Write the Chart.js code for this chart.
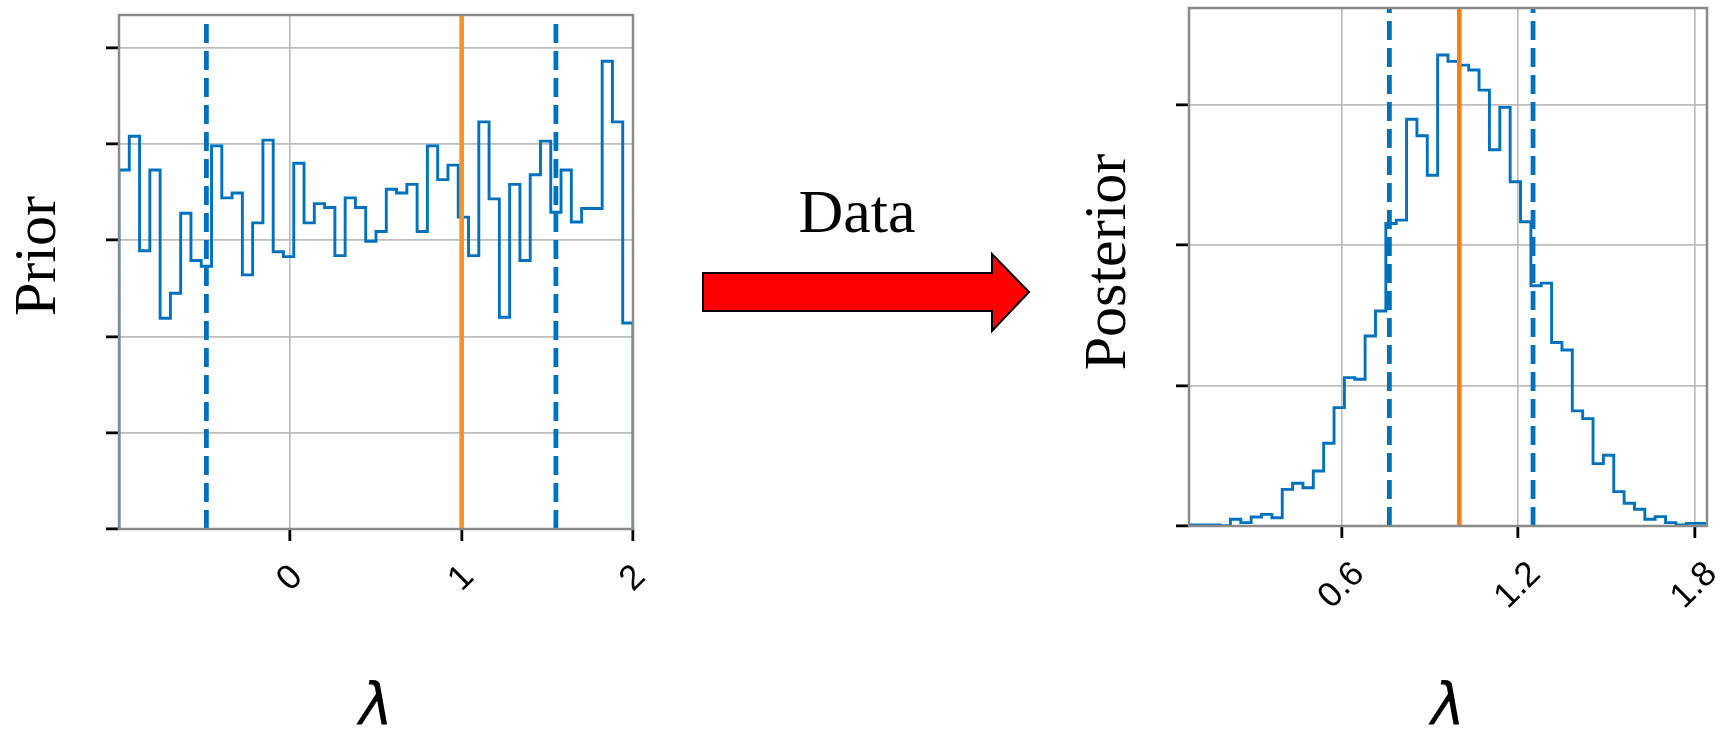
<!DOCTYPE html>
<html>
<head>
<meta charset="utf-8">
<script src="https://cdn.jsdelivr.net/npm/chart.js@4.4.1/dist/chart.umd.min.js"></script>
<style>
    html, body { margin: 0; padding: 0; background: #fff; }
    #wrap { position: relative; width: 1721px; height: 731px; overflow: hidden; }
    #wrap canvas, #wrap svg { position: absolute; top: 0; }
    #prior { left: 0; }
    #posterior { left: 1060px; }
    #arrow { left: 0; pointer-events: none; }
</style>
</head>
<body>
<div id="wrap">
    <canvas id="prior" width="700" height="731"></canvas>
    <canvas id="posterior" width="661" height="731"></canvas>
    <svg id="arrow" width="1721" height="731">
        <text x="857" y="232" text-anchor="middle" font-family="'Liberation Serif', 'Times New Roman', serif" font-size="62">Data</text>
        <polygon points="703,273 992,273 992,254 1029,292 992,331 992,311 703,311" fill="#ff0000" stroke="#000" stroke-width="2" stroke-linejoin="miter"/>
    </svg>
</div>

<script>
// Prior histogram: 50 bins from -1 to 2 (heights in grid units, y axis has no labels)
const priorBinStart = -1;
const priorBinWidth = 0.06;
const priorCounts = [
    3.73, 4.08, 2.89, 3.73, 2.19, 2.45, 3.28, 2.79, 2.73, 3.98,
    3.44, 3.49, 2.64, 3.18, 4.04, 2.88, 2.83, 3.80, 3.18, 3.38,
    3.34, 2.84, 3.44, 3.34, 2.99, 3.09, 3.53, 3.49, 3.58, 3.09,
    3.98, 3.63, 3.78, 3.24, 2.84, 4.23, 3.43, 2.20, 3.58, 2.79,
    3.68, 4.03, 3.29, 3.73, 3.19, 3.33, 3.33, 4.86, 4.23, 2.14
];
const priorXRange = [-1, 2];
const priorYMax = 5.34;
const priorXTicks = [0, 1, 2];
const priorXLabels = ['0', '1', '2'];
const priorYTicks = [0, 1, 2, 3, 4, 5];
const priorInterval = [-0.49, 1.55];
const priorTruth = [1.0];

// Posterior histogram: 50 bins from 0.08 to 1.843
const postBinStart = 0.08;
const postBinWidth = 0.03526;
const postCounts = [
    0.007, 0.007, 0.007, 0.002, 0.048, 0.024, 0.064, 0.083, 0.059, 0.261,
    0.304, 0.273, 0.392, 0.589, 0.843, 1.057, 1.045, 1.354, 1.532, 2.155,
    2.179, 2.898, 2.780, 2.499, 3.355, 3.310, 3.283, 3.248, 3.105, 2.680,
    2.982, 2.452, 2.167, 1.711, 1.730, 1.307, 1.254, 0.820, 0.765, 0.444,
    0.504, 0.245, 0.162, 0.119, 0.048, 0.067, 0.024, 0.007, 0.019, 0.019
];
const postXRange = [0.08, 1.843];
const postYMax = 3.69;
const postXTicks = [0.6, 1.2, 1.8];
const postXLabels = ['0.6', '1.2', '1.8'];
const postYTicks = [0, 1, 2, 3];
const postInterval = [0.762, 1.251];
const postTruth = [1.0];

const BLUE = '#0072bd';

// outline of a step histogram, closed down to zero at both ends
function stepPoints(start, width, counts) {
    const pts = [{ x: start, y: 0 }];
    counts.forEach((c, i) => pts.push({ x: start + i * width, y: c }));
    pts.push({ x: start + counts.length * width, y: 0 });
    return pts;
}

function vline(x, top) {
    return [{ x: x, y: 0 }, { x: x, y: top }];
}

// frame, rotated tick labels and axis titles
const decorPlugin = {
    id: 'decor',
    afterDatasetsDraw(chart) {
        const { ctx, chartArea: a } = chart;
        ctx.save();
        ctx.strokeStyle = '#8a8a8a';
        ctx.lineWidth = 2.5;
        ctx.strokeRect(a.left, a.top, a.right - a.left, a.bottom - a.top);
        ctx.restore();
    },
    afterDraw(chart, args, opts) {
        const { ctx, chartArea: a, scales } = chart;
        ctx.save();
        ctx.fillStyle = '#000';

        ctx.font = '35px "Liberation Sans", Arial, sans-serif';
        ctx.textAlign = 'center';
        ctx.textBaseline = 'middle';
        opts.xLabels.forEach((t, i) => {
            const x = scales.x.getPixelForValue(opts.xTicks[i]);
            const w = ctx.measureText(t).width;
            const y = a.bottom + 28.5 + (w + 40) * Math.SQRT1_2 / 2;
            ctx.save();
            ctx.translate(x, y);
            ctx.rotate(-Math.PI / 4);
            ctx.fillText(t, 0, 0);
            ctx.restore();
        });

        ctx.font = 'italic 58px "DejaVu Sans", sans-serif';
        ctx.textBaseline = 'alphabetic';
        ctx.fillText(opts.xTitle, (a.left + a.right) / 2, 725);

        ctx.font = '60px "Liberation Serif", "Times New Roman", serif';
        ctx.save();
        ctx.translate(a.left - 64, (a.top + a.bottom) / 2 + opts.yTitleShift);
        ctx.rotate(-Math.PI / 2);
        ctx.fillText(opts.yTitle, 0, 0);
        ctx.restore();

        ctx.restore();
    }
};

function makeHist(id, o) {
    const datasets = [];
    o.truth.forEach(x => datasets.push({
        data: vline(x, o.yMax), borderColor: o.truthColor, borderWidth: 4.6
    }));
    o.interval.forEach(x => datasets.push({
        data: vline(x, o.yMax), borderColor: BLUE, borderWidth: 4.8, borderDash: [19, 8]
    }));
    datasets.push({
        data: stepPoints(o.binStart, o.binWidth, o.counts),
        borderColor: BLUE, borderWidth: 2.9, stepped: 'before'
    });

    return new Chart(document.getElementById(id), {
        type: 'line',
        data: { datasets },
        options: {
            responsive: false,
            animation: false,
            events: [],
            layout: { padding: o.padding },
            elements: {
                point: { radius: 0 },
                line: { tension: 0, fill: false, borderCapStyle: 'butt' }
            },
            plugins: {
                legend: { display: false },
                tooltip: { enabled: false },
                decor: {
                    xTicks: o.xTicks, xLabels: o.xLabels,
                    xTitle: 'λ', yTitle: o.yTitle, yTitleShift: o.yTitleShift
                }
            },
            scales: {
                x: {
                    type: 'linear',
                    min: o.xRange[0],
                    max: o.xRange[1],
                    afterBuildTicks: s => { s.ticks = o.xTicks.map(v => ({ value: v })); },
                    ticks: { display: false },
                    border: { display: false },
                    grid: { color: '#bdbdbd', lineWidth: 1.7, tickColor: '#000', tickWidth: 2.8, tickLength: 12 }
                },
                y: {
                    type: 'linear',
                    min: 0,
                    max: o.yMax,
                    afterBuildTicks: s => { s.ticks = o.yTicks.map(v => ({ value: v })); },
                    ticks: { display: false },
                    border: { display: false },
                    grid: { color: '#bdbdbd', lineWidth: 1.7, tickColor: '#000', tickWidth: 2.8, tickLength: 13 }
                }
            }
        },
        plugins: [decorPlugin]
    });
}

makeHist('prior', {
    binStart: priorBinStart, binWidth: priorBinWidth, counts: priorCounts,
    xRange: priorXRange, yMax: priorYMax,
    xTicks: priorXTicks, xLabels: priorXLabels, yTicks: priorYTicks,
    interval: priorInterval, truth: priorTruth, truthColor: '#f39233',
    yTitle: 'Prior', yTitleShift: -16,
    padding: { left: 106, right: 67, top: 15, bottom: 190 }
});

makeHist('posterior', {
    binStart: postBinStart, binWidth: postBinWidth, counts: postCounts,
    xRange: postXRange, yMax: postYMax,
    xTicks: postXTicks, xLabels: postXLabels, yTicks: postYTicks,
    interval: postInterval, truth: postTruth, truthColor: '#ff7f0e',
    yTitle: 'Posterior', yTitleShift: -5,
    padding: { left: 116, right: 14, top: 8, bottom: 193 }
});
</script>
</body>
</html>
